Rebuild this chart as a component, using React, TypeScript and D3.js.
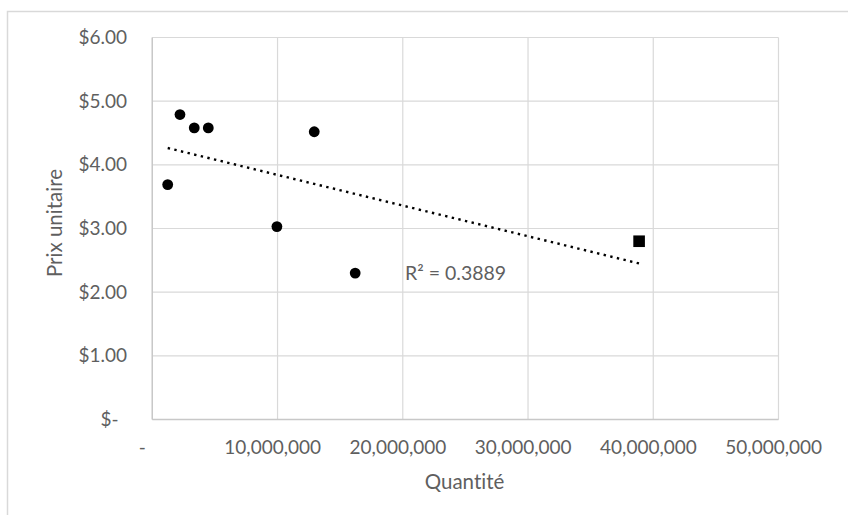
import React from "react";
import * as d3 from "d3";

const W = 848;
const H = 515;

// Circle-marker series
const quantities = [1230000, 2210000, 3350000, 4470000, 9950000, 12930000, 16200000];
const prices = [3.69, 4.79, 4.58, 4.58, 3.03, 4.52, 2.3];
// Square-marker series
const sqQuantities = [38870000];
const sqPrices = [2.8];

const xTicks = [0, 10000000, 20000000, 30000000, 40000000, 50000000];
const yTicks = [0, 1, 2, 3, 4, 5, 6];
const r2Label = "R² = 0.3889";
const xTitle = "Quantité";
const yTitle = "Prix unitaire";

const FONT = "Lato, 'Open Sans', sans-serif";
const TXT = "#5f5f5f";
const GRID = "#d9d9d9";

export default function App() {
  const left = 152.3, right = 778.5, top = 37.5, bottom = 419.5;
  const x = d3.scaleLinear().domain([0, 50000000]).range([left, right]);
  const y = d3.scaleLinear().domain([0, 6]).range([bottom, top]);

  const allX = [...quantities, ...sqQuantities];
  const allY = [...prices, ...sqPrices];
  const mx = d3.mean(allX)!;
  const my = d3.mean(allY)!;
  let sxy = 0, sxx = 0;
  allX.forEach((v, i) => {
    sxy += (v - mx) * (allY[i] - my);
    sxx += (v - mx) * (v - mx);
  });
  const slope = sxy / sxx;
  const intercept = my - slope * mx;
  const [x0, x1] = d3.extent(allX) as [number, number];
  const line = d3.line<number>().x((d) => x(d)).y((d) => y(intercept + slope * d));

  const fmtX = d3.format(",");
  const fmtY = (v: number) => (v === 0 ? "$-" : "$" + v.toFixed(2));

  return (
    <svg
      width={W}
      height={H}
      style={{
        position: "absolute",
        left: 0,
        top: 0,
        background: "#fff",
        fontVariantLigatures: "none",
        fontFeatureSettings: '"liga" 0, "clig" 0',
      }}
      fontFamily={FONT}
    >
      <rect x={7.5} y={11.5} width={W + 10} height={H + 10} fill="#fff" stroke={GRID} strokeWidth={1.5} />
      {/* gridlines */}
      {yTicks.map((t) => (
        <line key={"gy" + t} x1={left} x2={right} y1={y(t)} y2={y(t)} stroke={GRID} strokeWidth={1.2} />
      ))}
      {xTicks.map((t) => (
        <line key={"gx" + t} x1={x(t)} x2={x(t)} y1={top} y2={bottom} stroke={GRID} strokeWidth={1.2} />
      ))}
      <line x1={left} x2={right} y1={bottom} y2={bottom} stroke="#c8c8c8" strokeWidth={1.4} />
      <line x1={left} x2={left} y1={top} y2={bottom} stroke="#c8c8c8" strokeWidth={1.4} />
      {/* y tick labels */}
      {yTicks.map((t) => (
        <text
          key={"ty" + t}
          x={t === 0 ? 118.5 : 127}
          y={y(t)}
          dy="0.35em"
          textAnchor="end"
          fontSize={19}
          fill={TXT}
        >
          {fmtY(t)}
        </text>
      ))}
      {/* x tick labels */}
      {xTicks.map((t) => (
        <text
          key={"tx" + t}
          x={t === 0 ? x(t) - 10 : x(t) - 4.8}
          y={447}
          dy="0.35em"
          textAnchor="middle"
          fontSize={19}
          fill={TXT}
        >
          {t === 0 ? "-" : fmtX(t)}
        </text>
      ))}
      {/* titles */}
      <text x={464.5} y={488.5} textAnchor="middle" fontSize={20.5} fill={TXT}>
        {xTitle}
      </text>
      <text
        transform={`translate(61.5,223) rotate(-90)`}
        textAnchor="middle"
        fontSize={20.5}
        fill={TXT}
      >
        {yTitle}
      </text>
      {/* trendline */}
      <path
        d={line([x0, x1]) || ""}
        fill="none"
        stroke="#000"
        strokeWidth={2.4}
        strokeDasharray="2.4 4.4"
      />
      {/* points */}
      {quantities.map((q, i) => (
        <circle key={"c" + i} cx={x(q)} cy={y(prices[i])} r={5.4} fill="#000" />
      ))}
      {sqQuantities.map((q, i) => (
        <rect key={"s" + i} x={x(q) - 5.8} y={y(sqPrices[i]) - 5.8} width={11.6} height={11.6} fill="#000" />
      ))}
      <text x={405} y={280} fontSize={19.5} fill={TXT}>
        {r2Label}
      </text>
    </svg>
  );
}
